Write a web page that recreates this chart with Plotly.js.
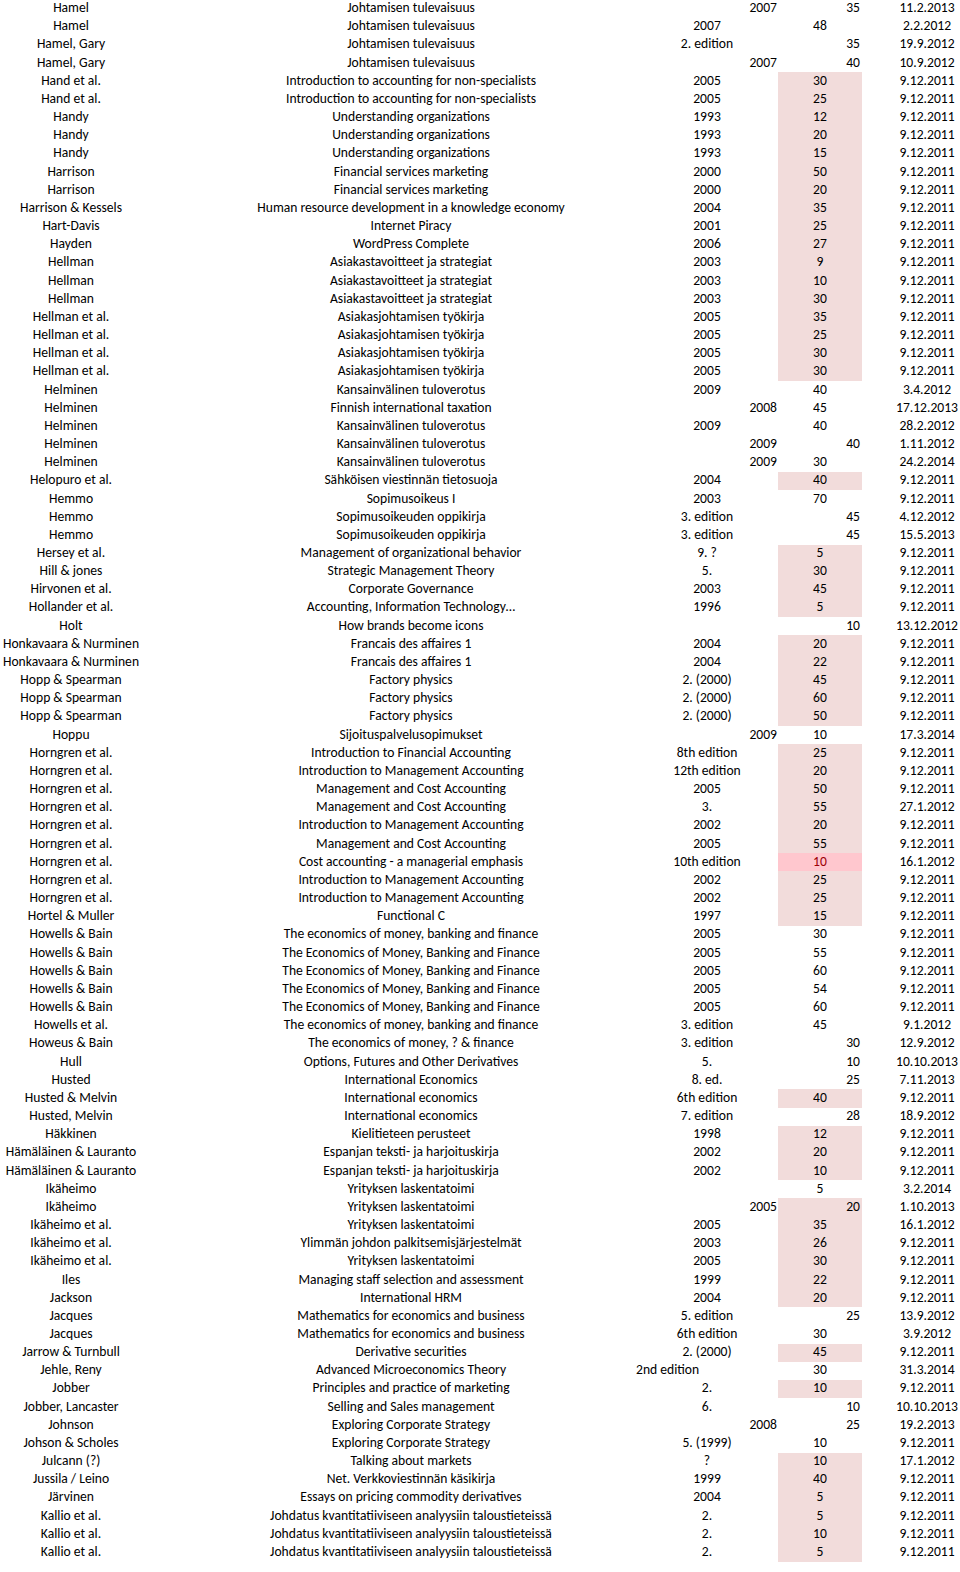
<!DOCTYPE html>
<html>
<head>
<meta charset="utf-8">
<script src="https://cdn.plot.ly/plotly-3.0.1.min.js"></script>
<style>html,body{margin:0;padding:0;background:#fff;}#chart{width:960px;height:1572px;}</style>
</head>
<body>
<div id="chart"></div>
<script>
const authors = ["Hamel","Hamel","Hamel, Gary","Hamel, Gary","Hand et al.","Hand et al.","Handy","Handy","Handy","Harrison","Harrison","Harrison & Kessels","Hart-Davis","Hayden","Hellman","Hellman","Hellman","Hellman et al.","Hellman et al.","Hellman et al.","Hellman et al.","Helminen","Helminen","Helminen","Helminen","Helminen","Helopuro et al.","Hemmo","Hemmo","Hemmo","Hersey et al.","Hill & jones","Hirvonen et al.","Hollander et al.","Holt","Honkavaara & Nurminen","Honkavaara & Nurminen","Hopp & Spearman","Hopp & Spearman","Hopp & Spearman","Hoppu","Horngren et al.","Horngren et al.","Horngren et al.","Horngren et al.","Horngren et al.","Horngren et al.","Horngren et al.","Horngren et al.","Horngren et al.","Hortel & Muller","Howells & Bain","Howells & Bain","Howells & Bain","Howells & Bain","Howells & Bain","Howells et al.","Howeus & Bain","Hull","Husted","Husted & Melvin","Husted, Melvin","Häkkinen","Hämäläinen & Lauranto","Hämäläinen & Lauranto","Ikäheimo","Ikäheimo","Ikäheimo et al.","Ikäheimo et al.","Ikäheimo et al.","Iles","Jackson","Jacques","Jacques","Jarrow & Turnbull","Jehle, Reny","Jobber","Jobber, Lancaster","Johnson","Johson & Scholes","Julcann (?)","Jussila / Leino","Järvinen","Kallio et al.","Kallio et al.","Kallio et al."];

const titles = ["Johtamisen tulevaisuus","Johtamisen tulevaisuus","Johtamisen tulevaisuus","Johtamisen tulevaisuus","Introduction to accounting for non-specialists","Introduction to accounting for non-specialists","Understanding organizations","Understanding organizations","Understanding organizations","Financial services marketing","Financial services marketing","Human resource development in a knowledge economy","Internet Piracy","WordPress Complete","Asiakastavoitteet ja strategiat","Asiakastavoitteet ja strategiat","Asiakastavoitteet ja strategiat","Asiakasjohtamisen työkirja","Asiakasjohtamisen työkirja","Asiakasjohtamisen työkirja","Asiakasjohtamisen työkirja","Kansainvälinen tuloverotus","Finnish international taxation","Kansainvälinen tuloverotus","Kansainvälinen tuloverotus","Kansainvälinen tuloverotus","Sähköisen viestinnän tietosuoja","Sopimusoikeus I","Sopimusoikeuden oppikirja","Sopimusoikeuden oppikirja","Management of organizational behavior","Strategic Management Theory","Corporate Governance","Accounting, Information Technology…","How brands become icons","Francais des affaires 1","Francais des affaires 1","Factory physics","Factory physics","Factory physics","Sijoituspalvelusopimukset","Introduction to Financial Accounting","Introduction to Management Accounting","Management and Cost Accounting","Management and Cost Accounting","Introduction to Management Accounting","Management and Cost Accounting","Cost accounting - a managerial emphasis","Introduction to Management Accounting","Introduction to Management Accounting","Functional C","The economics of money, banking and finance","The Economics of Money, Banking and Finance","The Economics of Money, Banking and Finance","The Economics of Money, Banking and Finance","The Economics of Money, Banking and Finance","The economics of money, banking and finance","The economics of money, ? & finance","Options, Futures and Other Derivatives","International Economics","International economics","International economics","Kielitieteen perusteet","Espanjan teksti- ja harjoituskirja","Espanjan teksti- ja harjoituskirja","Yrityksen laskentatoimi","Yrityksen laskentatoimi","Yrityksen laskentatoimi","Ylimmän johdon palkitsemisjärjestelmät","Yrityksen laskentatoimi","Managing staff selection and assessment","International HRM","Mathematics for economics and business","Mathematics for economics and business","Derivative securities","Advanced Microeconomics Theory","Principles and practice of marketing","Selling and Sales management","Exploring Corporate Strategy","Exploring Corporate Strategy","Talking about markets","Net. Verkkoviestinnän käsikirja","Essays on pricing commodity derivatives","Johdatus kvantitatiiviseen analyysiin taloustieteissä","Johdatus kvantitatiiviseen analyysiin taloustieteissä","Johdatus kvantitatiiviseen analyysiin taloustieteissä"];

const editions = ["2007","2007","2. edition","2007","2005","2005","1993","1993","1993","2000","2000","2004","2001","2006","2003","2003","2003","2005","2005","2005","2005","2009","2008","2009","2009","2009","2004","2003","3. edition","3. edition","9. ?","5.","2003","1996","","2004","2004","2. (2000)","2. (2000)","2. (2000)","2009","8th edition","12th edition","2005","3.","2002","2005","10th edition","2002","2002","1997","2005","2005","2005","2005","2005","3. edition","3. edition","5.","8. ed.","6th edition","7. edition","1998","2002","2002","","2005","2005","2003","2005","1999","2004","5. edition","6th edition","2. (2000)","2nd edition","2.","6.","2008","5. (1999)","?","1999","2004","2.","2.","2."];
// cell alignment of the edition column: c = centred, r = right, l = left
const editionAlign = ["r","c","c","r","c","c","c","c","c","c","c","c","c","c","c","c","c","c","c","c","c","c","r","c","r","r","c","c","c","c","c","c","c","c","c","c","c","c","c","c","r","c","c","c","c","c","c","c","c","c","c","c","c","c","c","c","c","c","c","c","c","c","c","c","c","c","r","c","c","c","c","c","c","c","c","l","c","c","r","c","c","c","c","c","c","c"];

const prices = [35,48,35,40,30,25,12,20,15,50,20,35,25,27,9,10,30,35,25,30,30,40,45,40,40,30,40,70,45,45,5,30,45,5,10,20,22,45,60,50,10,25,20,50,55,20,55,10,25,25,15,30,55,60,54,60,45,30,10,25,40,28,12,20,10,5,20,35,26,30,22,20,25,30,45,30,10,10,25,10,10,40,5,5,10,5];
// cell alignment of the price column: c = centred, r = right
const priceAlign = ["r","c","r","r","c","c","c","c","c","c","c","c","c","c","c","c","c","c","c","c","c","c","c","c","r","c","c","c","r","r","c","c","c","c","r","c","c","c","c","c","c","c","c","c","c","c","c","c","c","c","c","c","c","c","c","c","c","r","r","r","c","r","c","c","c","c","r","c","c","c","c","c","r","c","c","c","c","r","r","c","c","c","c","c","c","c"];

const dates = ["11.2.2013","2.2.2012","19.9.2012","10.9.2012","9.12.2011","9.12.2011","9.12.2011","9.12.2011","9.12.2011","9.12.2011","9.12.2011","9.12.2011","9.12.2011","9.12.2011","9.12.2011","9.12.2011","9.12.2011","9.12.2011","9.12.2011","9.12.2011","9.12.2011","3.4.2012","17.12.2013","28.2.2012","1.11.2012","24.2.2014","9.12.2011","9.12.2011","4.12.2012","15.5.2013","9.12.2011","9.12.2011","9.12.2011","9.12.2011","13.12.2012","9.12.2011","9.12.2011","9.12.2011","9.12.2011","9.12.2011","17.3.2014","9.12.2011","9.12.2011","9.12.2011","27.1.2012","9.12.2011","9.12.2011","16.1.2012","9.12.2011","9.12.2011","9.12.2011","9.12.2011","9.12.2011","9.12.2011","9.12.2011","9.12.2011","9.1.2012","12.9.2012","10.10.2013","7.11.2013","9.12.2011","18.9.2012","9.12.2011","9.12.2011","9.12.2011","3.2.2014","1.10.2013","16.1.2012","9.12.2011","9.12.2011","9.12.2011","9.12.2011","13.9.2012","3.9.2012","9.12.2011","31.3.2014","9.12.2011","10.10.2013","19.2.2013","9.12.2011","17.1.2012","9.12.2011","9.12.2011","9.12.2011","9.12.2011","9.12.2011"];

// price-cell highlight: 0 none, 1 light, 2 strong
const highlight = [0,0,0,0,1,1,1,1,1,1,1,1,1,1,1,1,1,1,1,1,1,0,0,0,0,0,1,0,0,0,1,1,1,1,0,1,1,1,1,1,0,1,1,1,1,1,1,2,1,1,1,0,0,0,0,0,0,0,0,0,1,0,1,1,1,0,1,1,1,1,1,1,0,0,1,0,1,0,0,0,1,1,1,1,1,1];

const rows = authors.map((_, i) => i);
const FONT = {family: "Carlito, Calibri, Lato, sans-serif", size: 13.6, color: "#000"};

// column geometry (pixels)
const COL = {author: 71, title: 411, edC: 707, edR: 777, edL: 636, prC: 820, prR: 860, date: 927, hiL: 778, hiW: 84};

function textTrace(xs, ys, txt, pos, color) {
  return {type: "scatter", mode: "text", x: xs, y: ys, text: txt, textposition: pos,
          textfont: Object.assign({}, FONT, color ? {color: color} : {}), hoverinfo: "skip", showlegend: false, cliponaxis: false};
}

const traces = [];
// highlighted price cells
[1, 2].forEach(level => {
  const ys = rows.filter(i => highlight[i] === level);
  traces.push({type: "bar", orientation: "h", y: ys, x: ys.map(() => COL.hiW), base: ys.map(() => COL.hiL),
    width: 1, marker: {color: level === 1 ? "#f2dcdb" : "#ffc7ce", line: {width: 0}}, hoverinfo: "skip", showlegend: false});
});

traces.push(textTrace(rows.map(() => COL.author), rows, authors, "middle center"));
traces.push(textTrace(rows.map(() => COL.title), rows, titles, "middle center"));
const edPos = {c: ["edC", "middle center"], r: ["edR", "middle left"], l: ["edL", "middle right"]};
["c", "r", "l"].forEach(a => {
  const ys = rows.filter(i => editions[i] !== "" && editionAlign[i] === a);
  traces.push(textTrace(ys.map(() => COL[edPos[a][0]]), ys, ys.map(i => editions[i]), edPos[a][1]));
});
const prPos = {c: ["prC", "middle center"], r: ["prR", "middle left"]};
["c", "r"].forEach(a => {
  const ys = rows.filter(i => priceAlign[i] === a && highlight[i] !== 2);
  traces.push(textTrace(ys.map(() => COL[prPos[a][0]]), ys, ys.map(i => String(prices[i])), prPos[a][1]));
});
// strong highlight text colour
const strong = rows.filter(i => highlight[i] === 2);
traces.push(textTrace(strong.map(() => COL.prC), strong, strong.map(i => String(prices[i])), "middle center", "#9c0006"));
traces.push(textTrace(rows.map(() => COL.date), rows, dates, "middle center"));

const layout = {
  width: 960, height: 1572,
  margin: {l: 0, r: 0, t: 0, b: 0, pad: 0},
  paper_bgcolor: "#fff", plot_bgcolor: "#fff",
  bargap: 0, barmode: "overlay",
  xaxis: {range: [0, 960], visible: false, fixedrange: true},
  yaxis: {range: [86.07, -0.48], visible: false, fixedrange: true},
  showlegend: false
};
Plotly.newPlot("chart", traces, layout, {staticPlot: true, displayModeBar: false});
</script>
</body>
</html>
